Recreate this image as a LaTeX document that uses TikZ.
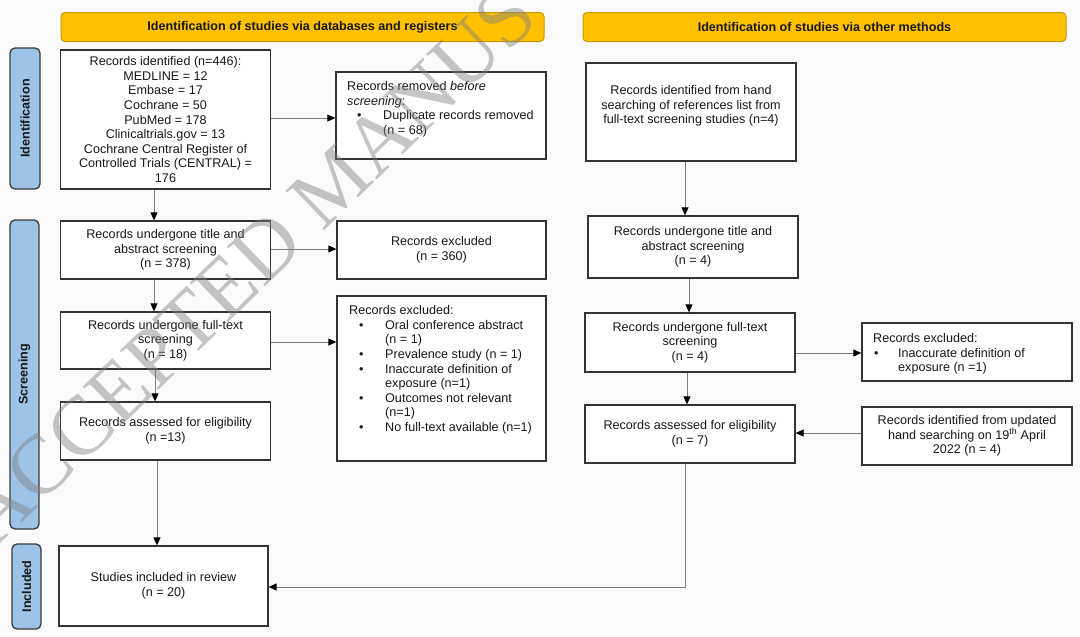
\documentclass[tikz,border=0pt]{standalone}
\usepackage{fontspec}
\setmainfont{Liberation Sans}
\newfontfamily\wmfont{Liberation Serif}
\usetikzlibrary{arrows.meta,calc}
\definecolor{bgc}{HTML}{FAFAFA}
\definecolor{hdrfill}{HTML}{FFC000}
\definecolor{hdredge}{HTML}{C49A00}
\definecolor{sidefill}{HTML}{9DC3E6}
\definecolor{sideedge}{HTML}{3A3A3A}
\definecolor{boxedge}{HTML}{333333}
\definecolor{arrline}{HTML}{7F7F7F}
\newcommand{\lbul}{\hspace*{10pt}\makebox[26pt][l]{•}}
\newcommand{\lind}{\hspace*{36pt}}
\newcommand{\rbul}{\hspace*{1pt}\makebox[24pt][l]{•}}
\newcommand{\rind}{\hspace*{25pt}}
\begin{document}
\begin{tikzpicture}[x=1pt,y=-1pt,
  every node/.style={font=\fontsize{12.6}{14.6}\selectfont, text=black!90},
  box/.style={draw=boxedge, line width=1.3pt, fill=white, inner sep=0pt, align=center},
  hdr/.style={draw=hdredge, line width=1pt, fill=hdrfill, rounded corners=4pt, inner sep=0pt,
    minimum width=483pt, minimum height=29pt, font=\fontsize{12.6}{14.6}\selectfont\bfseries},
  side/.style={draw=sideedge, line width=1.3pt, fill=sidefill, rounded corners=5pt, inner sep=0pt,
    rotate=90, font=\fontsize{12.6}{14.6}\selectfont\bfseries},
  txt/.style={inner sep=0pt, align=left, anchor=north west},
  arr/.style={draw=arrline, line width=0.9pt, -{Triangle[length=8pt,width=7pt,color=black]}}
]
\useasboundingbox (0,0) rectangle (1080,637);
\fill[bgc] (0,0) rectangle (1080,637);

% headers
\node[hdr] (h1) at (302.5,27) {Identification of studies via databases and registers};
\node[hdr] (h2) at (824.5,27) {Identification of studies via other methods};

% side labels
\node[side, minimum width=141pt, minimum height=30pt] (s1) at (25,118.5) {Identification};
\node[side, minimum width=309pt, minimum height=29pt] (s2) at (24.5,374.5) {Screening};
\node[side, minimum width=85pt, minimum height=29pt] (s3) at (26.5,586.5) {Included};

% left column
\node[box, minimum width=210pt, minimum height=139pt] (b1) at (165.5,119.5)
  {Records identified (n=446):\\ MEDLINE = 12\\ Embase = 17\\ Cochrane = 50\\ PubMed = 178\\
   Clinicaltrials.gov = 13\\ Cochrane Central Register of\\ Controlled Trials (CENTRAL) =\\ 176};
\node[box, minimum width=210pt, minimum height=87pt] (b2) at (441,115.5) {};
\node[txt] (t2) at (347,81.3)
  {Records removed \textit{before}\\ \textit{screening}:\\ \lbul Duplicate records removed\\ \lind (n = 68)};
\node[box, minimum width=210pt, minimum height=58pt] (b3) at (165.5,250)
  {Records undergone title and\\ abstract screening\\ (n = 378)};
\node[box, minimum width=209pt, minimum height=58pt] (b4) at (441.5,250)
  {Records excluded\\ (n = 360)};
\node[box, minimum width=210pt, minimum height=57pt] (b5) at (165.5,340.5)
  {Records undergone full-text\\ screening\\ (n = 18)};
\node[box, minimum width=209pt, minimum height=165pt] (b6) at (441.5,378.5) {};
\node[txt] (t6) at (349,305.3)
  {Records excluded:\\ \lbul Oral conference abstract\\ \lind (n = 1)\\ \lbul Prevalence study (n = 1)\\
   \lbul Inaccurate definition of\\ \lind exposure (n=1)\\ \lbul Outcomes not relevant\\ \lind (n=1)\\
   \lbul No full-text available (n=1)};
\node[box, minimum width=210pt, minimum height=58pt] (b7) at (165.5,431)
  {Records assessed for eligibility\\ (n =13)};
\node[box, minimum width=209pt, minimum height=80pt] (b8) at (163.5,586)
  {Studies included in review\\ (n = 20)};

% right column
\node[box, minimum width=210pt, minimum height=98pt] (r1) at (691,112) {};
\node[inner sep=0pt, align=center] (t1) at (691,106)
  {Records identified from hand\\ searching of references list from\\ full-text screening studies (n=4)};
\node[box, minimum width=210pt, minimum height=62pt] (r2) at (693,247)
  {Records undergone title and\\ abstract screening\\ (n = 4)};
\node[box, minimum width=210pt, minimum height=59pt] (r3) at (690,342.5)
  {Records undergone full-text\\ screening\\ (n = 4)};
\node[box, minimum width=210pt, minimum height=58pt] (r4) at (967,352) {};
\node[txt] (t4) at (873,333.3)
  {Records excluded:\\ \rbul Inaccurate definition of\\ \rind exposure (n =1)};
\node[box, minimum width=210pt, minimum height=58pt] (r5) at (690,434)
  {Records assessed for eligibility\\ (n = 7)};
\node[box, minimum width=210pt, minimum height=58pt] (r6) at (967,436)
  {Records identified from updated\\ hand searching on 19\textsuperscript{th} April\\ 2022 (n = 4)};

% connectors left
\draw[arr] ($(b1.east)+(0,-1.5)$) coordinate (p1) -- (p1 -| b2.west);
\draw[arr] ($(b1.south)+(-11.5,0)$) coordinate (p2) -- (p2 |- b3.north);
\draw[arr] ($(b3.east)+(0,-1)$) coordinate (p3) -- (p3 -| b4.west);
\draw[arr] ($(b3.south)+(-11.5,0)$) coordinate (p4) -- (p4 |- b5.north);
\draw[arr] ($(b5.east)+(0,1.5)$) coordinate (p5) -- (p5 -| b6.west);
\draw[arr] ($(b5.south)+(-10.5,0)$) coordinate (p6) -- (p6 |- b7.north);
\draw[arr] ($(b7.south)+(-8.5,0)$) coordinate (p7) -- (p7 |- b8.north);

% connectors right
\draw[arr] ($(r1.south)+(-6,0)$) coordinate (q1) -- (q1 |- r2.north);
\draw[arr] ($(r2.south)+(-4,0)$) coordinate (q2) -- (q2 |- r3.north);
\draw[arr] ($(r3.east)+(0,10.5)$) coordinate (q3) -- (q3 -| r4.west);
\draw[arr] ($(r3.south)+(-3,0)$) coordinate (q4) -- (q4 |- r5.north);
\draw[arr] ($(r6.west)+(0,-3)$) coordinate (q5) -- (q5 -| r5.east);
\draw[arr] ($(r5.south)+(-5,0)$) coordinate (q6) |- ($(b8.east)+(0,1)$);

% watermark
\node[rotate=44, inner sep=0pt, text=gray, opacity=0.45,
  font={\wmfont\fontsize{84}{84}\selectfont}] (wm) at (249,265) {ACCEPTED MANUS};
\end{tikzpicture}
\end{document}
